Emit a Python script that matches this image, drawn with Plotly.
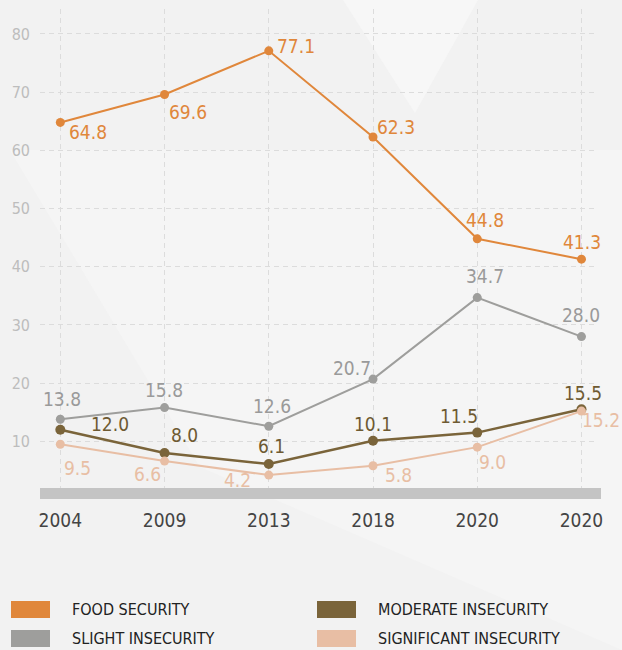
import plotly.graph_objects as go

# ---------------- data ----------------
years = ["2004", "2009", "2013", "2018", "2020", "2020"]
food_security = [64.8, 69.6, 77.1, 62.3, 44.8, 41.3]
slight_insecurity = [13.8, 15.8, 12.6, 20.7, 34.7, 28.0]
moderate_insecurity = [12.0, 8.0, 6.1, 10.1, 11.5, 15.5]
significant_insecurity = [9.5, 6.6, 4.2, 5.8, 9.0, 15.2]
series_names = ["FOOD SECURITY", "SLIGHT INSECURITY", "MODERATE INSECURITY", "SIGNIFICANT INSECURITY"]
y_ticks = [10, 20, 30, 40, 50, 60, 70, 80]

# ---------------- styles ----------------
FONT = "'Liberation Sans Narrow', 'DejaVu Sans Condensed', 'Arial Narrow', sans-serif"
line_colors = ["#E0873B", "#9E9E9C", "#7A643A", "#E8BEA4"]
label_colors = ["#E0873B", "#9A9A9A", "#6E5A32", "#E8BEA4"]
line_widths = [2, 2, 2.5, 2]
marker_sizes = [9, 9, 10, 9]
# label offsets in pixels (dx, dy up)
label_offsets = [
    [(28, -10), (23, -18), (27, 5), (23, 10), (8, 19), (1, 17)],
    [(2, 20), (-1, 18), (3, 20), (-21, 11), (8, 22), (0, 22)],
    [(50, 6), (20, 18), (3, 18), (0, 17), (-18, 17), (2, 16)],
    [(17, -24), (-17, -13), (-31, -5), (25, -9), (15, -15), (20, -9)],
]

all_series = [food_security, slight_insecurity, moderate_insecurity, significant_insecurity]
x_idx = list(range(len(years)))

fig = go.Figure()
for s, vals in enumerate(all_series):
    fig.add_trace(go.Scatter(
        x=x_idx, y=vals, mode="lines+markers", name=series_names[s],
        line=dict(color=line_colors[s], width=line_widths[s]),
        marker=dict(color=line_colors[s], size=marker_sizes[s]),
        showlegend=False, hoverinfo="skip",
    ))
    for i, v in enumerate(vals):
        dx, dy = label_offsets[s][i]
        fig.add_annotation(
            x=i, y=v, xref="x", yref="y", text=f"{v:.1f}", showarrow=False,
            xshift=dx, yshift=dy,
            font=dict(family=FONT, size=19, color=label_colors[s]),
        )

# plot area geometry (pixels)
W, H = 622, 650
L, R, T, B = 40, 25, 9, 162
PW, PH = W - L - R, H - T - B


def px_x(px):
    return (px - L) / PW


def px_y(py):
    return (H - B - py) / PH


shapes = []
# subtle background decoration
shapes.append(dict(type="path", xref="paper", yref="paper",
                   path=f"M {px_x(343)},{px_y(0)} L {px_x(415)},{px_y(113)} L {px_x(478)},{px_y(0)} Z",
                   fillcolor="#F7F7F7", line=dict(width=0), layer="below"))
shapes.append(dict(type="path", xref="paper", yref="paper",
                   path=f"M {px_x(10)},{px_y(150)} L {px_x(200)},{px_y(467)} L {px_x(622)},{px_y(650)} L {px_x(622)},{px_y(150)} Z",
                   fillcolor="#F5F5F5", line=dict(width=0), layer="below"))
# gray base bar
shapes.append(dict(type="rect", xref="paper", yref="paper",
                   x0=px_x(40), x1=px_x(601), y0=px_y(499), y1=px_y(488),
                   fillcolor="#C4C4C4", line=dict(width=0), layer="above"))

# legend
legend_pos = [(11, 601, 70), (11, 630, 70), (317, 601, 376), (317, 630, 376)]
for k, s in enumerate(range(4)):
    mx, my, tx = legend_pos[k]
    shapes.append(dict(type="rect", xref="paper", yref="paper",
                       x0=px_x(mx), x1=px_x(mx + 39), y0=px_y(my + 17), y1=px_y(my),
                       fillcolor=line_colors[s], line=dict(width=0)))
    fig.add_annotation(x=px_x(tx), y=px_y(my + 8.5), xref="paper", yref="paper",
                       text=series_names[s], showarrow=False, xanchor="left", yanchor="middle",
                       font=dict(family=FONT, size=16, color="#222222"))

fig.update_layout(
    width=W, height=H,
    margin=dict(l=L, r=R, t=T, b=B, pad=0),
    paper_bgcolor="#F2F2F2", plot_bgcolor="rgba(0,0,0,0)",
    shapes=shapes,
    showlegend=False,
    font=dict(family=FONT),
)
fig.update_xaxes(
    range=[-0.195, 5.149], tickmode="array", tickvals=x_idx, ticktext=years,
    showgrid=True, gridcolor="#DCDCDC", griddash="5px,4px", gridwidth=1,
    zeroline=False, showline=False, ticks="",
    tickfont=dict(family=FONT, size=19, color="#444444"), ticklabelstandoff=19,
)
fig.update_yaxes(
    range=[1.98, 84.29], tickmode="array", tickvals=y_ticks,
    showgrid=True, gridcolor="#DCDCDC", griddash="5px,4px", gridwidth=1,
    zeroline=False, showline=False, ticks="",
    tickfont=dict(family=FONT, size=16, color="#BDBDBD"), ticklabelstandoff=9,
)

fig.write_html("out.html")
